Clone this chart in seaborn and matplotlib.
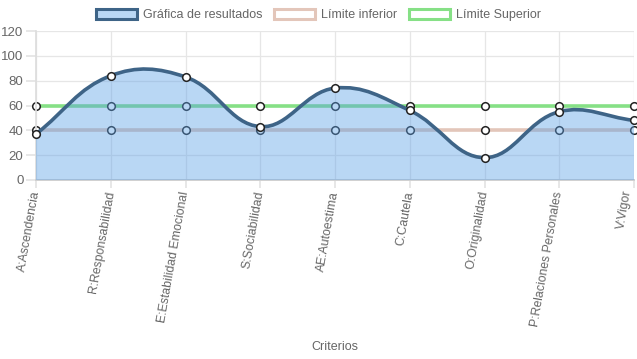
import numpy as np
import pandas as pd
import matplotlib
matplotlib.use('Agg')
import matplotlib.pyplot as plt
import seaborn as sns
from matplotlib.path import Path
from matplotlib.patches import PathPatch, Patch

criterios = ['A:Ascendencia', 'R:Responsabilidad', 'E:Estabilidad Emocional',
             'S:Sociabilidad', 'AE:Autoestima', 'C:Cautela', 'O:Originalidad',
             'P:Relaciones Personales', 'V:Vigor']
resultados = [37, 84, 83, 43, 74, 56, 18, 55, 48]
limite_inferior = [40, 40, 40, 40, 40, 40, 40, 40, 40]
limite_superior = [60, 60, 60, 60, 60, 60, 60, 60, 60]

sns.set_theme(style='white')
plt.rcParams['font.family'] = ['Liberation Sans', 'DejaVu Sans']

c_res = '#3e6487'
c_fill = (90 / 255, 160 / 255, 230 / 255, 0.42)
c_inf = '#e3c6ba'
c_sup = '#86e086'
c_txt = '#666666'

fig = plt.figure(figsize=(6.37, 3.59), dpi=100)
ax = fig.add_axes([36 / 637, 1 - 180 / 359, 598 / 637, 149 / 359])
x = np.arange(len(criterios))
ax.set_xlim(0, len(criterios) - 1)
ax.set_ylim(0, 120)

df = pd.DataFrame({'x': x, 'inf': limite_inferior, 'sup': limite_superior, 'res': resultados})

# limit lines (under the fill)
sns.lineplot(data=df, x='x', y='sup', ax=ax, color=c_sup, lw=2.6, zorder=2)
sns.lineplot(data=df, x='x', y='inf', ax=ax, color=c_inf, lw=2.6, zorder=2)
for col in ['sup', 'inf']:
    sns.scatterplot(data=df, x='x', y=col, ax=ax, s=30, color='white',
                    edgecolor='#222222', linewidth=1.1, zorder=2.5, clip_on=False)

# Chart.js-like bezier spline (tension 0.4) computed in pixel space
fig.canvas.draw()
pts = ax.transData.transform(np.column_stack([x, resultados]))
n = len(pts)
t = 0.4
verts = [pts[0]]
codes = [Path.MOVETO]
cps = []
for i in range(n):
    p0 = pts[max(i - 1, 0)]
    p1 = pts[i]
    p2 = pts[min(i + 1, n - 1)]
    d01 = np.hypot(*(p1 - p0))
    d12 = np.hypot(*(p2 - p1))
    tot = d01 + d12
    s01 = d01 / tot if tot else 0
    s12 = d12 / tot if tot else 0
    cps.append((p1 - t * s01 * (p2 - p0), p1 + t * s12 * (p2 - p0)))
for i in range(1, n):
    verts += [cps[i - 1][1], cps[i][0], pts[i]]
    codes += [Path.CURVE4] * 3
inv = ax.transData.inverted()
dverts = inv.transform(np.array(verts))

curve = Path(dverts, codes)
fill_verts = list(dverts) + [[x[-1], 0], [x[0], 0], dverts[0]]
fill_codes = codes + [Path.LINETO, Path.LINETO, Path.CLOSEPOLY]
ax.add_patch(PathPatch(Path(fill_verts, fill_codes), facecolor=c_fill,
                       edgecolor='none', zorder=3))
ax.add_patch(PathPatch(curve, facecolor='none', edgecolor=c_res, lw=2.6,
                       zorder=4, capstyle='round'))
sns.scatterplot(data=df, x='x', y='res', ax=ax, s=30, color='white',
                edgecolor='#222222', linewidth=1.1, zorder=5, clip_on=False)

# axes styling
ax.set_yticks(range(0, 121, 20))
ax.set_xticks(x)
ax.set_xticklabels(criterios, rotation=80, ha='right', va='center',
                   rotation_mode='anchor', fontsize=8.8, color=c_txt)
# keep the last label inside the canvas
ax.get_xticklabels()[-1].set_verticalalignment('bottom')
ax.tick_params(axis='y', labelsize=9.5, labelcolor=c_txt, length=7,
               color='#e4e4e4', pad=2, left=True)
ax.tick_params(axis='x', length=6, color='#e4e4e4', pad=2, bottom=True)
ax.grid(True, color='#e6e6e6', lw=0.9, zorder=0)
ax.set_axisbelow(True)
for s in ['top', 'right']:
    ax.spines[s].set_visible(False)
ax.spines['left'].set_color('#dddddd')
ax.spines['bottom'].set_color('#d0d0d0')
ax.spines['bottom'].set_linewidth(1.4)
ax.set_ylabel('')
ax.set_xlabel('')
fig.text((36 + 634) / 2 / 637, 1 - 347 / 359, 'Criterios', ha='center',
         va='center', fontsize=9, color=c_txt)

handles = [Patch(facecolor=c_fill, edgecolor=c_res, lw=2.2),
           Patch(facecolor='white', edgecolor=c_inf, lw=2.2),
           Patch(facecolor='white', edgecolor=c_sup, lw=2.2)]
labels = ['Gráfica de resultados', 'Límite inferior', 'Límite Superior']
fig.legend(handles, labels, loc='center', bbox_to_anchor=(0.5, 1 - 15 / 359),
           ncol=3, frameon=False, fontsize=9, handlelength=3.3,
           handleheight=0.9, columnspacing=0.9, handletextpad=0.5,
           labelcolor=c_txt)

fig.savefig('out.png', dpi=100)
